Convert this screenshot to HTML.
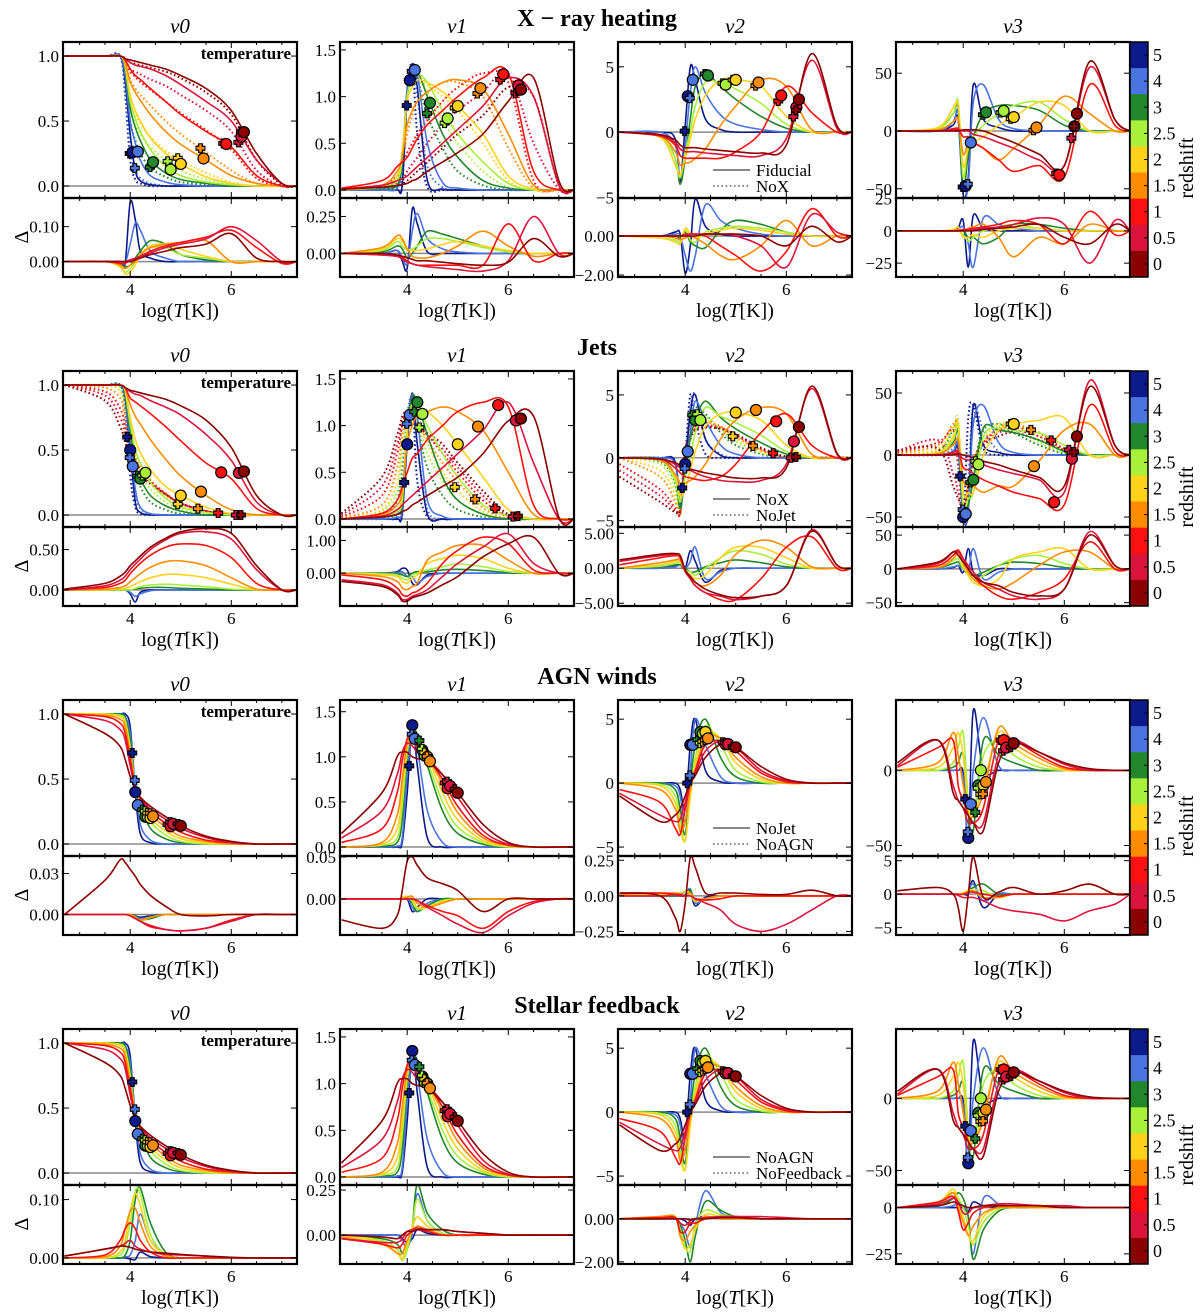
<!DOCTYPE html>
<html><head><meta charset="utf-8">
<style>
html,body{margin:0;padding:0;background:#fff;}
svg{display:block;font-family:"Liberation Serif","DejaVu Serif",serif;}
</style></head>
<body>
<svg id="fig" width="1200" height="1313" viewBox="0 0 1200 1313" xmlns="http://www.w3.org/2000/svg"></svg>
<script>
// ---------------- DATA ----------------
const xGrid = [2.7,3.5,3.8,3.9,4.0,4.1,4.2,4.4,4.7,5.0,5.5,6.0,6.5,7.0,7.3];
const redshiftLabels = ['5','4','3','2.5','2','1.5','1','0.5','0'];
const zColors = ['#0d1a8c','#4a74e0','#22862a','#a8f03a','#ffd21a','#ff8c00','#ff1010','#dc143c','#8b0000'];
const sectionTitles = ['X \u2212 ray heating','Jets','AGN winds','Stellar feedback'];
const legendSolid = ['Fiducial','NoX','NoJet','NoAGN'];
const legendDotted = ['NoX','NoJet','NoAGN','NoFeedback'];

// Row 1: X-ray heating
const r1v0Solid = [
[1,1,1,.8,.4,.12,.04,.01,0,0,0,0,0,0,0],
[1,1,1,.85,.5,.33,.2,.08,.03,.01,0,0,0,0,0],
[1,1,1,.9,.6,.45,.35,.2,.1,.05,.02,0,0,0,0],
[1,1,1,.92,.65,.52,.42,.28,.15,.08,.03,.01,0,0,0],
[1,1,1,.93,.7,.58,.5,.37,.25,.17,.07,.02,0,0,0],
[1,1,1,.95,.8,.72,.66,.55,.42,.32,.2,.08,.02,0,0],
[1,1,1,.97,.9,.85,.82,.75,.65,.55,.42,.3,.08,0,0],
[1,1,1,.98,.95,.93,.92,.9,.85,.78,.65,.5,.2,.02,0],
[1,1,1,.98,.97,.96,.95,.93,.9,.85,.75,.58,.25,.02,0]];
const r1v0Dot = [
[1,1,1,.7,.2,.05,.02,0,0,0,0,0,0,0,0],
[1,1,1,.75,.3,.12,.06,.02,0,0,0,0,0,0,0],
[1,1,1,.85,.5,.35,.25,.14,.07,.03,.01,0,0,0,0],
[1,1,1,.9,.6,.48,.4,.3,.2,.12,.05,.01,0,0,0],
[1,1,1,.92,.68,.56,.48,.38,.27,.2,.1,.03,0,0,0],
[1,1,1,.95,.82,.75,.7,.62,.5,.4,.26,.12,.02,0,0],
[1,1,1,.97,.88,.84,.8,.74,.65,.56,.43,.28,.06,0,0],
[1,1,1,.97,.9,.88,.86,.82,.77,.7,.58,.42,.12,0,0],
[1,1,1,.98,.95,.94,.93,.91,.88,.83,.72,.55,.2,.01,0]];
const r1v0Delta = [
[0,0,0,-.005,.17,.12,.03,.01,0,0,0,0,0,0,0],
[0,0,0,-.005,.05,.11,.09,.03,.01,0,0,0,0,0,0],
[0,0,-.01,-.015,-.01,.01,.03,.06,.05,.02,.005,0,0,0,0],
[0,0,-.015,-.03,-.02,0,.02,.04,.04,.02,.01,0,0,0,0],
[0,0,-.015,-.035,-.03,-.01,.02,.045,.05,.035,.015,0,0,0,0],
[0,0,-.01,-.02,-.01,0,.02,.04,.05,.055,.06,0,0,0,0],
[0,0,-.005,-.005,.005,.01,.015,.03,.045,.055,.07,.09,.04,-.005,0],
[0,0,0,0,.005,.01,.015,.025,.04,.05,.065,.1,.06,0,0],
[0,0,0,0,0,.005,.01,.02,.03,.04,.05,.08,.01,0,0]];
const r1v1Solid = [
[0,0,0,.05,1.0,1.35,1.1,.1,.01,0,0,0,0,0,0],
[0,0,.02,.3,1.1,1.32,1.25,.5,.08,.02,0,0,0,0,0],
[0,.02,.05,.3,1.0,1.25,1.28,1.0,.6,.35,.1,.02,0,0,0],
[0,.03,.1,.35,1.0,1.2,1.25,1.15,.85,.6,.3,.07,0,0,0],
[0,.04,.15,.4,.95,1.1,1.18,1.15,1.05,.9,.6,.15,.01,0,0],
[0,.05,.2,.35,.7,.85,.95,1.05,1.15,1.18,1.08,.6,.05,0,0],
[.02,.1,.25,.3,.35,.45,.55,.7,.85,1.0,1.2,1.25,.2,0,0],
[.01,.05,.1,.12,.15,.2,.25,.35,.5,.65,.9,1.2,1.0,.05,0],
[.01,.03,.05,.06,.07,.1,.12,.2,.3,.4,.6,.95,1.2,.1,0]];
const r1v1Dot = [
[0,0,0,.05,1.0,1.35,.6,.03,0,0,0,0,0,0,0],
[0,0,.02,.2,1.0,1.3,1.0,.25,.03,0,0,0,0,0,0],
[0,.02,.05,.3,1.0,1.25,1.2,.8,.45,.2,.05,0,0,0,0],
[0,.03,.1,.35,1.0,1.2,1.22,1.05,.75,.5,.2,.03,0,0,0],
[0,.04,.15,.4,.95,1.1,1.15,1.12,1.0,.85,.5,.1,0,0,0],
[0,.05,.15,.3,.6,.8,.95,1.05,1.15,1.15,1.0,.45,.02,0,0],
[.01,.05,.15,.25,.4,.5,.6,.75,.95,1.1,1.25,1.15,.1,0,0],
[.01,.03,.08,.1,.2,.28,.35,.5,.7,.85,1.05,1.25,.5,.01,0],
[.01,.02,.05,.06,.1,.15,.2,.3,.45,.6,.8,1.1,1.0,.05,0]];
const r1v1Delta = [
[0,0,.02,-.05,-.1,.3,.2,.01,0,0,0,0,0,0,0],
[0,0,.02,-.03,-.07,.15,.27,.1,.03,.01,0,0,0,0,0],
[0,.01,.05,.03,-.03,0,.05,.15,.13,.1,.05,.01,0,0,0],
[0,.02,.08,.05,.02,.03,.05,.1,.1,.08,.04,.01,0,0,0],
[0,.03,.1,.08,.03,.02,.02,.03,.06,.08,.05,.02,0,0,0],
[0,.04,.12,.1,.03,-.02,-.03,-.03,0,.05,.15,.05,-.02,0,0],
[0,-.01,-.02,-.03,-.05,-.07,-.08,-.08,-.08,-.08,-.08,.2,-.05,0,0],
[0,-.01,-.02,-.04,-.06,-.07,-.08,-.09,-.1,-.11,-.12,-.05,.25,0,0],
[0,0,-.01,-.02,-.03,-.04,-.05,-.05,-.06,-.07,-.08,-.06,.1,-.02,0]];
const r1v2Solid = [
[0,0,-.5,-3.8,.5,5.0,4.0,1,.2,0,0,0,0,0,0],
[0,0,-1,-3.5,-1,3,5,3,1.3,.6,.2,0,0,0,0],
[0,-.3,-2,-4,-2,1,3.5,4.5,3.5,2.5,1.2,.3,0,0,0],
[0,-.3,-2,-3.5,-1.5,0,2,3.8,3.8,3.3,2.2,.6,0,0,0],
[0,-.4,-2.5,-3.3,-2,-.5,1,2.8,4,4,3.5,1.2,0,0,0],
[0,-.3,-1.5,-2.5,-2.4,-2.3,-2,-1.3,.5,2,4,3.5,.2,0,0],
[0,-.3,-1,-1.8,-2,-2,-2,-2,-2,-1.5,0,3.5,1.5,0,0],
[0,-.2,-.8,-1.3,-1.5,-1.5,-1.5,-1.6,-1.7,-1.8,-1.8,-.5,5.5,.3,0],
[0,-.2,-.6,-1,-1.2,-1.2,-1.2,-1.3,-1.4,-1.5,-1.6,-1,6,.5,0]];
const r1v2Delta = [
[0,0,.2,.1,-1.9,-.5,1.9,.5,.1,0,0,0,0,0,0],
[0,0,.1,0,-1,-1.8,-1,1.6,.8,.4,.1,0,0,0,0],
[0,0,0,-.1,.2,-.3,-.5,-.6,.3,.8,.6,.2,0,0,0],
[0,-.1,-.2,-.3,.3,-.2,-.3,.2,.4,.5,.4,.2,0,0,0],
[0,-.1,-.3,-.4,.4,.1,-.1,.1,.3,.4,.3,.1,0,0,0],
[0,0,-.1,-.2,-.1,0,-.1,-.4,-1,-1.2,-.5,.8,-.5,0,0],
[0,0,0,0,.1,.1,.1,0,-.5,-1,-1.8,-.8,1.4,0,0],
[0,0,0,0,0,.1,.1,.1,.1,0,-.5,-1.6,1.1,.2,0],
[0,0,0,0,0,0,0,.1,.1,.1,0,-.5,.5,-.3,0]];
const r1v3Solid = [
[0,0,5,10,-55,-40,40,10,3,0,0,0,0,0,0],
[0,0,8,15,-55,-45,25,40,10,2,0,0,0,0,0],
[0,2,15,20,-50,-20,-5,15,22,22,18,5,0,0,0],
[0,2,15,25,-40,-10,-5,5,15,22,25,10,0,0,0],
[0,3,20,22,-30,-15,-10,-5,5,12,25,22,0,0,0],
[0,1,8,10,-20,-10,-10,-15,-25,-15,5,30,15,0,0],
[0,0,2,2,-5,-5,-10,-15,-25,-35,-30,-40,40,5,0],
[0,0,1,1,0,0,-3,-5,-10,-15,-25,-30,55,10,0],
[0,0,0,0,1,1,1,0,-5,-10,-20,-30,60,10,0]];
const r1v3Delta = [
[0,0,0,2,8,-28,12,2,0,0,0,0,0,0,0],
[0,0,0,1,3,-10,-28,10,5,2,0,0,0,0,0],
[0,0,0,0,0,-5,-5,-10,-5,5,5,2,0,0,0],
[0,0,0,0,-3,-8,-5,0,3,5,2,0,0,0,0],
[0,0,1,3,-5,-5,-3,-5,0,2,2,0,0,0,0],
[0,0,0,1,0,2,3,5,-5,-20,-5,-10,5,0,0],
[0,0,0,0,1,1,2,3,5,8,5,-10,15,-3,0],
[0,0,0,0,0,1,1,2,3,5,10,5,-25,8,0],
[0,0,0,0,0,0,0,1,2,3,5,-5,-10,5,0]];
const r1Circ = [4.05,4.15,4.45,4.8,5.0,5.45,5.9,6.2,6.25];

// Row 2: Jets
const r2v0Solid = [
[1,1,1,.9,.5,.1,.02,0,0,0,0,0,0,0,0],
[1,1,1,.92,.55,.2,.06,.01,0,0,0,0,0,0,0],
[1,1,1,.94,.65,.4,.28,.15,.07,.03,0,0,0,0,0],
[1,1,1,.95,.7,.5,.4,.25,.13,.06,.02,0,0,0,0],
[1,1,1,.96,.75,.58,.48,.35,.22,.15,.06,.01,0,0,0],
[1,1,1,.97,.85,.76,.7,.58,.43,.3,.15,.04,0,0,0],
[1,1,1,.98,.9,.87,.84,.78,.68,.57,.4,.28,.05,0,0],
[1,1,1,.98,.95,.93,.92,.88,.83,.77,.62,.42,.1,0,0],
[1,1,1,.98,.96,.95,.94,.92,.89,.84,.73,.52,.15,0,0]];
const r2v0Dot = [
[1,1,1,.8,.3,.06,.01,0,0,0,0,0,0,0,0],
[1,1,1,.82,.4,.15,.05,.01,0,0,0,0,0,0,0],
[1,1,1,.88,.6,.35,.22,.1,.04,.01,0,0,0,0,0],
[1,1,.98,.85,.62,.44,.33,.2,.1,.04,.01,0,0,0,0],
[1,1,.95,.8,.6,.45,.36,.25,.14,.07,.02,0,0,0,0],
[1,.98,.9,.75,.57,.45,.37,.27,.17,.09,.03,0,0,0,0],
[1,.95,.82,.68,.52,.42,.35,.26,.16,.09,.03,0,0,0,0],
[1,.92,.75,.62,.48,.39,.33,.25,.16,.09,.03,0,0,0,0],
[1,.88,.68,.56,.45,.37,.31,.24,.16,.09,.03,0,0,0,0]];
const r2v0Delta = [
[0,0,0,0,-.05,-.15,-.03,0,0,0,0,0,0,0,0],
[0,0,0,0,-.03,-.08,-.05,-.01,0,0,0,0,0,0,0],
[0,0,0,0,0,.01,.02,.03,.03,.02,.01,0,0,0,0],
[0,0,0,0,0,.02,.04,.06,.07,.06,.04,.01,0,0,0],
[0,0,.01,.02,.04,.07,.1,.15,.19,.19,.15,.07,0,0,0],
[0,.01,.03,.05,.1,.15,.2,.28,.35,.36,.3,.15,.01,0,0],
[0,.03,.08,.12,.2,.27,.33,.43,.53,.57,.55,.4,.08,0,0],
[0,.05,.12,.17,.25,.32,.38,.5,.62,.7,.72,.63,.25,0,0],
[.01,.08,.17,.22,.3,.36,.42,.53,.64,.72,.76,.7,.3,0,0]];
const r2v1Solid = [
[0,0,0,.05,.8,1.35,.8,.05,0,0,0,0,0,0,0],
[0,0,.02,.1,.9,1.33,1.1,.2,.03,0,0,0,0,0,0],
[0,.02,.05,.15,.9,1.3,1.25,.9,.45,.2,.05,0,0,0,0],
[0,.03,.08,.2,.9,1.25,1.25,1.0,.7,.45,.15,.03,0,0,0],
[0,.04,.1,.25,.95,1.2,1.2,1.15,1.0,.8,.45,.1,0,0,0],
[0,.05,.15,.3,.8,1.0,1.1,1.15,1.2,1.15,.95,.5,.05,0,0],
[0,.06,.2,.35,.5,.65,.7,.85,1.0,1.15,1.25,1.2,.15,0,0],
[0,.03,.1,.15,.2,.25,.3,.4,.55,.7,.95,1.25,.6,0,0],
[0,.02,.05,.08,.1,.15,.18,.25,.35,.45,.7,1.05,1.1,.02,0]];
const r2v1Dot = [
[0,0,0,.05,.9,1.3,.4,.02,0,0,0,0,0,0,0],
[0,0,.05,.3,1.1,1.3,.8,.1,0,0,0,0,0,0,0],
[0,.05,.2,.6,1.1,1.25,1.0,.55,.25,.1,.02,0,0,0,0],
[0,.08,.3,.7,1.1,1.2,1.05,.7,.4,.2,.05,0,0,0,0],
[0,.1,.4,.8,1.1,1.15,1.05,.8,.5,.3,.08,0,0,0,0],
[.01,.15,.55,.9,1.1,1.1,1.0,.85,.6,.4,.12,0,0,0,0],
[.02,.25,.7,1.0,1.15,1.1,1.0,.9,.7,.5,.2,.02,0,0,0],
[.04,.35,.8,1.05,1.15,1.1,1.0,.9,.75,.55,.25,.03,0,0,0],
[.06,.45,.9,1.1,1.15,1.1,1.0,.92,.8,.6,.3,.05,0,0,0]];
const r2v1Delta = [
[0,0,.05,.15,.1,-.3,-.35,-.05,0,0,0,0,0,0,0],
[0,0,.02,.05,-.1,-.1,-.3,-.1,0,0,0,0,0,0,0],
[0,0,-.02,-.05,-.1,0,.05,.05,.1,.12,.08,.02,0,0,0],
[0,-.02,-.05,-.15,-.2,-.05,0,.1,.2,.28,.2,.05,0,0,0],
[0,-.05,-.1,-.25,-.3,-.15,-.05,.3,.45,.55,.45,.15,0,0,0],
[0,-.1,-.25,-.45,-.5,-.4,-.3,.4,.65,.85,.85,.4,0,0,0],
[-.05,-.2,-.45,-.65,-.7,-.6,-.55,-.3,.3,.7,1.1,.9,.1,0,0],
[-.2,-.35,-.6,-.8,-.8,-.7,-.65,-.5,-.1,.3,.8,1.2,.3,0,0],
[-.25,-.4,-.65,-.85,-.85,-.75,-.7,-.6,-.35,-.1,.5,.9,1.1,0,0]];
const r2v2Solid = [
[0,0,-.3,-4,-.5,3.5,5,1.5,.2,0,0,0,0,0,0],
[0,0,-.5,-4,-1,2,4.5,3,1,.3,0,0,0,0,0],
[0,-.1,-1.5,-4,-1,1.5,3,4.5,3.2,2.3,1.2,.3,0,0,0],
[0,-.2,-1.8,-3.5,-1.5,0,2,4,3.3,2.8,1.8,.5,0,0,0],
[0,-.2,-1.5,-3,-2.5,-1,.5,2.5,3.5,3.6,3,1,0,0,0],
[0,-.2,-1.3,-2,-2,-1.8,-1.5,-.5,1.5,3,4,3.5,.3,0,0],
[0,-.1,-.8,-1.2,-1.5,-1.6,-1.7,-1.8,-1.5,-.5,2,3.5,1,0,0],
[0,-.1,-.5,-.8,-1,-1,-1.2,-1.5,-1.8,-1.9,-1.8,-.5,5.5,.3,0],
[0,-.1,-.4,-.6,-.8,-.9,-1,-1.2,-1.4,-1.6,-1.6,-.8,5.7,.4,0]];
const r2v2Dot = [
[0,0,-.3,-4,0,5,3,.3,0,0,0,0,0,0,0],
[0,0,-.5,-4,-.5,4,5,1.5,.3,0,0,0,0,0,0],
[0,-.3,-2,-4.5,0,3,4,3.5,2,1,.3,0,0,0,0],
[0,-.5,-2.5,-4.5,0,2.5,3.5,3.3,2.3,1.3,.4,0,0,0,0],
[0,-1,-3,-4.5,0,2.2,3,3,2.5,1.5,.5,0,0,0,0],
[0,-1.5,-3.5,-4.5,.5,2,2.8,2.8,2.5,1.7,.6,0,0,0,0],
[-.5,-2.5,-4,-4.3,.5,1.8,2.5,2.6,2.4,1.8,.7,0,0,0,0],
[-1,-3,-4.2,-4.2,.5,1.7,2.3,2.5,2.3,1.8,.7,0,0,0,0],
[-1.5,-3.5,-4.3,-4,.5,1.5,2.2,2.4,2.3,1.9,.8,.1,0,0,0]];
const r2v2Delta = [
[0,0,.3,.5,0,2.5,1,-2,-.3,0,0,0,0,0,0],
[0,0,.2,.5,0,1,3,-1.5,-.5,0,0,0,0,0,0],
[0,.2,.5,.5,0,-.5,-.5,.2,.8,1.2,.8,.2,0,0,0],
[0,.3,.7,.8,-.2,-.5,-1,0,1.5,2.5,2,.6,0,0,0],
[0,.5,1,1,-.3,-1,-1.5,-1,1.5,3,3,1.5,0,0,0],
[0,.8,1.2,1.2,-.5,-1,-2,-2.5,-1,2,4,3,.2,0,0],
[.5,1.5,1.8,1.5,-.5,-1.5,-2.5,-3.5,-4.5,-4.5,-1.5,3,4.5,0,0],
[1,1.8,2,1.8,-.3,-1.5,-2.5,-3.5,-4,-4.5,-4,-2.5,5.5,.5,0],
[1.2,2,2.1,1.8,-.2,-1.2,-2,-3,-3.8,-4.2,-4,-2.5,5.3,.5,0]];
const r2v3Solid = [
[0,0,2,5,-50,-45,40,8,2,0,0,0,0,0,0],
[0,0,3,8,-50,-45,25,40,10,2,0,0,0,0,0],
[0,1,10,18,-45,-40,-20,22,20,18,12,3,0,0,0],
[0,1,12,22,-40,-35,-30,15,22,20,18,8,0,0,0],
[0,2,15,25,-30,-30,-30,0,20,25,28,30,0,0,0],
[0,1,8,12,-20,-25,-25,-30,-25,-25,-5,20,25,0,0],
[0,0,2,3,-10,-12,-15,-20,-25,-30,-35,-40,40,3,0],
[0,0,1,1,-3,-4,-5,-8,-12,-15,-20,-30,60,8,0],
[0,0,0,1,0,-1,-2,-5,-8,-12,-18,-25,55,8,0]];
const r2v3Dot = [
[0,0,3,5,-50,30,40,5,0,0,0,0,0,0,0],
[0,0,5,10,-50,-20,40,20,3,0,0,0,0,0,0],
[0,3,20,25,-45,-30,-10,20,25,18,8,1,0,0,0],
[0,4,22,27,-45,-30,-10,15,25,22,10,2,0,0,0],
[0,5,22,25,-45,-25,-5,12,25,25,15,3,0,0,0],
[1,8,25,20,-45,-25,-5,10,22,25,18,5,0,0,0],
[2,10,20,-10,-45,-25,-5,10,20,22,18,5,0,0,0],
[3,12,-15,-30,-45,-25,-5,8,18,20,15,5,0,0,0],
[4,5,-25,-35,-42,-25,-5,8,15,18,12,4,0,0,0]];
const r2v3Delta = [
[0,0,2,5,-5,30,-5,-10,0,0,0,0,0,0,0],
[0,0,3,5,0,-5,30,-15,-5,0,0,0,0,0,0],
[0,2,8,10,0,-5,-10,-5,5,10,8,2,0,0,0],
[0,3,12,15,0,-5,-15,-10,5,15,20,8,0,0,0],
[0,3,15,25,5,-10,-20,-25,-15,15,25,30,0,0,0],
[0,2,15,25,10,-5,-15,-25,-30,-20,5,25,25,0,0],
[0,5,20,28,15,0,-10,-25,-40,-45,-35,-15,40,0,0],
[0,8,25,25,15,5,-5,-20,-30,-40,-45,-30,55,5,0],
[0,10,25,20,10,0,-10,-20,-25,-35,-40,-30,50,5,0]];
const r2Circ = [4.0,4.05,4.2,4.3,5.0,5.4,5.8,6.15,6.25];

// Row 3: AGN winds
const r3v0Solid = [
[1,1,1,1,.9,.4,.08,.01,0,0,0,0,0,0,0],
[1,1,1,.98,.85,.45,.15,.03,0,0,0,0,0,0,0],
[1,1,1,.97,.8,.45,.3,.12,.04,.01,0,0,0,0,0],
[1,1,.99,.95,.75,.45,.32,.17,.07,.02,0,0,0,0,0],
[1,1,.98,.93,.72,.45,.33,.2,.1,.04,.01,0,0,0,0],
[1,.99,.96,.9,.7,.45,.34,.23,.13,.06,.02,0,0,0,0],
[1,.98,.93,.85,.65,.44,.35,.25,.16,.09,.03,.01,0,0,0],
[1,.95,.88,.8,.6,.43,.35,.27,.19,.12,.05,.01,0,0,0],
[1,.85,.75,.65,.52,.42,.36,.29,.21,.14,.06,.02,0,0,0]];
const r3v0Delta = [
[0,0,0,0,0,-.001,-.002,-.001,0,0,0,0,0,0,0],
[0,0,0,0,0,-.001,-.003,-.002,0,0,0,0,0,0,0],
[0,0,0,0,0,-.001,-.004,-.003,0,0,0,0,0,0,0],
[0,0,0,0,0,-.002,-.005,-.002,0,0,0,0,0,0,0],
[0,0,0,0,0,-.002,-.004,-.002,0,0,0,0,0,0,0],
[0,0,0,0,0,-.002,-.004,-.002,0,0,0,0,0,0,0],
[0,0,0,0,-.001,-.003,-.005,-.009,-.011,-.012,-.01,-.004,0,0,0],
[0,0,0,0,-.001,-.003,-.005,-.008,-.011,-.012,-.01,-.005,0,0,0],
[0,.025,.04,.038,.033,.028,.022,.014,.006,0,-.001,0,0,0,0]];
const r3v1Solid = [
[0,0,0,.05,.6,1.35,.9,.1,0,0,0,0,0,0,0],
[0,0,.01,.1,.8,1.3,1.1,.4,.05,0,0,0,0,0,0],
[0,.01,.05,.3,1.0,1.28,1.25,.9,.4,.15,.03,0,0,0,0],
[0,.02,.1,.45,1.05,1.25,1.2,.95,.5,.22,.05,0,0,0,0],
[0,.03,.2,.6,1.1,1.2,1.15,1.0,.6,.3,.07,.01,0,0,0],
[0,.05,.35,.75,1.15,1.2,1.1,1.0,.7,.38,.1,.02,0,0,0],
[.05,.2,.6,.95,1.2,1.2,1.1,1.0,.75,.45,.13,.02,0,0,0],
[.1,.4,.8,1.05,1.15,1.12,1.05,.98,.8,.55,.18,.03,0,0,0],
[.15,.6,1.0,1.05,1.05,1.0,.98,.95,.8,.6,.25,.05,0,0,0]];
const r3v1Delta = [
[0,0,0,0,0,-.015,-.01,0,0,0,0,0,0,0,0],
[0,0,0,0,.002,-.01,-.015,-.005,0,0,0,0,0,0,0],
[0,0,0,.001,.002,-.005,-.015,-.008,0,0,0,0,0,0,0],
[0,0,0,.002,.003,-.003,-.012,-.01,-.002,0,0,0,0,0,0],
[0,0,0,.002,.003,0,-.01,-.01,-.003,0,0,0,0,0,0],
[0,0,0,0,.002,.003,-.005,-.01,-.005,0,0,0,0,0,0],
[0,0,0,0,0,0,-.002,-.008,-.015,-.02,-.035,-.015,-.003,0,0],
[0,0,0,0,0,0,-.002,-.01,-.02,-.03,-.04,-.02,-.005,0,0],
[-.025,-.035,-.02,.01,.045,.05,.04,.025,.018,.01,-.015,0,0,0,0]];
const r3v2Solid = [
[0,0,0,-.5,-2,3,5,1,.1,0,0,0,0,0,0],
[0,0,-.2,-1,-3,1,5,3,.5,0,0,0,0,0,0],
[0,0,-.5,-2,-4,0,3,5,2,.5,0,0,0,0,0],
[0,-.1,-1,-3,-4.5,-1,2,4.5,3,1,.1,0,0,0,0],
[0,-.2,-1.5,-3.5,-4.5,-1,1.5,4,3.5,1.6,.3,0,0,0,0],
[0,-.5,-2,-3.8,-3,-.5,1,3.5,3.5,2,.5,0,0,0,0],
[-.5,-1.5,-3.5,-4,-2,0,1,3,3.3,2.5,.8,.1,0,0,0],
[-.8,-2.5,-3,-2.8,-1.5,0,.8,2.5,3.3,2.8,1,.2,0,0,0],
[-1,-3,-2.5,-2,-1,0,.6,2,3,2.8,1.3,.3,0,0,0]];
const r3v2Delta = [
[0,0,0,0,0,.03,-.07,-.01,0,0,0,0,0,0,0],
[0,0,0,0,.01,.05,-.05,-.02,0,0,0,0,0,0,0],
[0,0,0,.01,.03,.04,-.03,-.02,0,0,0,0,0,0,0],
[0,0,.01,.02,.03,.01,-.04,-.02,0,0,0,0,0,0,0],
[0,.01,.02,.02,.03,.02,-.04,-.02,0,0,0,0,0,0,0],
[.01,.02,.02,.01,0,.02,-.02,-.02,0,0,0,0,0,0,0],
[.02,.02,.01,0,0,0,-.02,-.03,-.02,0,0,0,0,0,0],
[0,0,.01,.01,0,0,-.02,-.05,-.1,-.2,-.25,-.2,-.1,0,0],
[.02,0,-.15,-.25,-.05,.27,.2,.02,.02,.02,.01,.01,.04,0,0]];
const r3v3Solid = [
[0,0,0,0,-2,-45,40,0,0,0,0,0,0,0,0],
[0,0,0,0,-5,-45,0,35,3,0,0,0,0,0,0],
[0,0,2,5,10,-30,-40,20,10,5,0,0,0,0,0],
[0,0,5,15,25,-20,-30,10,20,10,2,0,0,0,0],
[0,2,15,25,10,-25,-30,-10,25,15,5,0,0,0,0],
[0,5,25,10,-10,-30,-30,-15,28,18,8,1,0,0,0],
[2,15,20,-10,-20,-30,-35,-25,20,20,10,2,0,0,0],
[3,20,-10,-20,-25,-35,-35,-35,10,20,12,4,0,0,0],
[5,20,-15,-20,-25,-30,-35,-40,5,18,12,5,1,0,0]];
const r3v3Delta = [
[0,0,0,0,0,0,2,-2,0,0,0,0,0,0,0],
[0,0,0,0,0,.5,1.5,-1,0,0,0,0,0,0,0],
[0,0,0,0,0,.5,1,1.5,0,0,0,0,0,0,0],
[0,0,0,0,.2,.6,.6,.5,-.5,0,0,0,0,0,0],
[0,0,0,0,.2,.5,.5,-.5,-.5,0,0,0,0,0,0],
[0,0,0,0,0,.2,.5,-.5,-.5,0,0,0,0,0,0],
[0,0,0,0,0,.3,.3,0,-.3,0,0,0,0,0,0],
[0,0,0,-.2,-.5,-.5,-.5,-1,-2,-2.5,-3,-4,-2.5,-1.5,0],
[.5,1,0,-2,-5.5,0,5.5,-.5,.3,1,0,.5,1.5,0,0]];
const r3Circ = [4.1,4.15,4.3,4.35,4.4,4.45,4.8,4.85,5.0];

// Row 4: Stellar feedback (main panels close to AGN winds row)
const r4v0Solid = r3v0Solid;
const r4v1Solid = r3v1Solid;
const r4v2Solid = r3v2Solid;
const r4v3Solid = r3v3Solid;
const r4v0Delta = [
[0,0,0,0,-.002,-.003,.01,.002,0,0,0,0,0,0,0],
[0,0,0,.002,.005,.03,.075,.03,.005,0,0,0,0,0,0],
[0,0,0,.005,.03,.1,.12,.06,.01,0,0,0,0,0,0],
[0,0,.005,.02,.06,.115,.11,.04,.005,0,0,0,0,0,0],
[0,0,.01,.03,.08,.11,.09,.03,.005,0,0,0,0,0,0],
[0,.002,.02,.05,.08,.085,.06,.02,.003,0,0,0,0,0,0],
[0,.005,.03,.05,.06,.05,.03,.01,0,0,0,0,0,0,0],
[.003,.015,.02,.025,.03,.02,.015,.01,.006,.005,.003,0,0,0,0],
[.003,.015,.02,.02,.018,.015,.013,.01,.008,.006,.003,.001,0,0,0]];
const r4v1Delta = [
[0,0,0,-.02,-.04,-.02,.03,.01,0,0,0,0,0,0,0],
[0,0,0,-.03,-.07,.02,.23,.08,.01,0,0,0,0,0,0],
[0,-.02,-.05,-.1,-.08,.05,.28,.12,.03,0,0,0,0,0,0],
[0,-.03,-.08,-.14,-.08,.05,.2,.08,.01,0,0,0,0,0,0],
[0,-.04,-.1,-.13,-.05,.04,.1,.05,0,0,0,0,0,0,0],
[-.01,-.05,-.1,-.1,-.03,.02,.05,.03,0,0,0,0,0,0,0],
[-.02,-.05,-.07,-.05,0,.02,.03,.02,0,0,0,0,0,0,0],
[-.02,-.04,-.04,-.02,.02,.03,.04,.03,.03,.02,.01,0,0,0,0],
[0,-.01,-.02,0,.02,.02,.03,.03,.03,.02,.01,0,0,0,0]];
const r4v2Delta = [
[0,0,0,0,-.1,-.3,0,.1,0,0,0,0,0,0,0],
[0,0,0,-.2,-.6,-1.3,-.3,1.3,.3,.1,0,0,0,0,0],
[0,0,.05,-.3,-1.0,-2.0,-.8,.8,.4,.1,0,0,0,0,0],
[0,0,.1,-.5,-1.3,-1.5,-.3,.4,.2,.1,0,0,0,0,0],
[0,.05,.1,-.8,-1.4,-1.2,-.5,.2,.1,0,0,0,0,0,0],
[0,.1,.1,-.8,-1,-.6,-.3,.1,0,0,0,0,0,0,0],
[0,.05,.05,-.6,-.6,-.2,-.2,0,.1,.1,0,0,0,0,0],
[0,0,0,-.2,-.3,-.1,0,.05,.1,.1,.1,.05,0,0,0],
[0,0,0,0,0,-.05,0,0,.05,.05,0,0,0,0,0]];
const r4v3Delta = [
[0,0,0,0,0,-2,3,1,0,0,0,0,0,0,0],
[0,0,1,3,0,-5,-25,5,2,0,0,0,0,0,0],
[0,1,5,8,5,-5,-28,-12,-2,0,0,0,0,0,0],
[0,2,8,5,0,-10,-20,-8,-1,0,0,0,0,0,0],
[0,3,10,2,-5,-15,-18,-5,0,0,0,0,0,0,0],
[0,3,8,0,-8,-15,-10,-3,0,0,0,0,0,0,0],
[0,3,6,-2,-12,-8,-3,0,1,1,1,0,0,0,0],
[0,2,5,3,-3,-3,0,1,2,2,1,1,0,0,0],
[0,1,3,2,1,0,0,1,1,1,1,0,0,0,0]];
const r4Circ = [4.1,4.15,4.3,4.35,4.4,4.45,4.8,4.85,5.0];

// tick values / labels
const v0MainTicks = [0,0.5,1.0], v0MainTickLabels = ['0.0','0.5','1.0'];
const v1MainTicks = [0,0.5,1.0,1.5], v1MainTickLabels = ['0.0','0.5','1.0','1.5'];
const v2MainTicks = [-5,0,5], v2MainTickLabels = ['\u22125','0','5'];
const v3MainTicks = [-50,0,50], v3MainTickLabels = ['\u221250','0','50'];
const xTicks = [4,6], xTickLabels = ['4','6'];

// ---------------- LAYOUT ----------------
const colLeft = [63,340,618,896];
const PW = 234, XMIN = 2.67, XMAX = 7.3;
const rowOff = [0,329,658,987];
const MT = 42, MB = 198, DB = 277;

const panels = [
 {r:0,c:0,s:r1v0Solid,d:r1v0Dot,dl:r1v0Delta,yl:[-0.092,1.108],dyl:[-0.044,0.182],yt:v0MainTicks,ytl:v0MainTickLabels,dt:[0,0.1],dtl:['0.00','0.10'],circ:r1Circ},
 {r:0,c:1,s:r1v1Solid,d:r1v1Dot,dl:r1v1Delta,yl:[-0.086,1.585],dyl:[-0.16,0.375],yt:v1MainTicks,ytl:v1MainTickLabels,dt:[0,0.25],dtl:['0.00','0.25'],circ:r1Circ},
 {r:0,c:2,s:r1v2Solid,d:null,dl:r1v2Delta,yl:[-5.05,6.9],dyl:[-2.1,1.95],yt:v2MainTicks,ytl:v2MainTickLabels,dt:[-2,0],dtl:['\u22122.00','0.00'],circ:r1Circ},
 {r:0,c:3,s:r1v3Solid,d:null,dl:r1v3Delta,yl:[-58,77],dyl:[-35.7,25.4],yt:v3MainTicks,ytl:v3MainTickLabels,dt:[-25,0,25],dtl:['\u221225','0','25'],circ:r1Circ},
 {r:1,c:0,s:r2v0Solid,d:r2v0Dot,dl:r2v0Delta,yl:[-0.092,1.108],dyl:[-0.2,0.78],yt:v0MainTicks,ytl:v0MainTickLabels,dt:[0,0.5],dtl:['0.00','0.50'],circ:r2Circ},
 {r:1,c:1,s:r2v1Solid,d:r2v1Dot,dl:r2v1Delta,yl:[-0.086,1.585],dyl:[-1.0,1.41],yt:v1MainTicks,ytl:v1MainTickLabels,dt:[0,1],dtl:['0.00','1.00'],circ:r2Circ},
 {r:1,c:2,s:r2v2Solid,d:r2v2Dot,dl:r2v2Delta,yl:[-5.5,6.9],dyl:[-5.4,5.9],yt:v2MainTicks,ytl:v2MainTickLabels,dt:[-5,0,5],dtl:['\u22125.00','0.00','5.00'],circ:r2Circ},
 {r:1,c:3,s:r2v3Solid,d:r2v3Dot,dl:r2v3Delta,yl:[-58,67.7],dyl:[-55,62],yt:v3MainTicks,ytl:v3MainTickLabels,dt:[-50,0,50],dtl:['\u221250','0','50'],circ:r2Circ},
 {r:2,c:0,s:r3v0Solid,d:null,dl:r3v0Delta,yl:[-0.092,1.108],dyl:[-0.015,0.0428],yt:v0MainTicks,ytl:v0MainTickLabels,dt:[0,0.03],dtl:['0.00','0.03'],circ:r3Circ},
 {r:2,c:1,s:r3v1Solid,d:null,dl:r3v1Delta,yl:[-0.1,1.63],dyl:[-0.043,0.0512],yt:v1MainTicks,ytl:v1MainTickLabels,dt:[0,0.05],dtl:['0.00','0.05'],circ:r3Circ},
 {r:2,c:2,s:r3v2Solid,d:null,dl:r3v2Delta,yl:[-5.7,6.5],dyl:[-0.275,0.28],yt:v2MainTicks,ytl:v2MainTickLabels,dt:[-0.25,0,0.25],dtl:['\u22120.25','0.00','0.25'],circ:r3Circ},
 {r:2,c:3,s:r3v3Solid,d:null,dl:r3v3Delta,yl:[-57,46.7],dyl:[-6.1,5.7],yt:[-50,0],ytl:['\u221250','0'],dt:[-5,0,5],dtl:['\u22125','0','5'],circ:r3Circ},
 {r:3,c:0,s:r4v0Solid,d:null,dl:r4v0Delta,yl:[-0.092,1.108],dyl:[-0.0105,0.125],yt:v0MainTicks,ytl:v0MainTickLabels,dt:[0,0.1],dtl:['0.00','0.10'],circ:r4Circ},
 {r:3,c:1,s:r4v1Solid,d:null,dl:r4v1Delta,yl:[-0.086,1.585],dyl:[-0.16,0.278],yt:v1MainTicks,ytl:v1MainTickLabels,dt:[0,0.25],dtl:['0.00','0.25'],circ:r4Circ},
 {r:3,c:2,s:r4v2Solid,d:null,dl:r4v2Delta,yl:[-5.7,6.5],dyl:[-2.1,1.57],yt:v2MainTicks,ytl:v2MainTickLabels,dt:[-2,0],dtl:['\u22122.00','0.00'],circ:r4Circ},
 {r:3,c:3,s:r4v3Solid,d:null,dl:r4v3Delta,yl:[-60,48],dyl:[-30.5,12.2],yt:[-50,0],ytl:['\u221250','0'],dt:[-25,0],dtl:['\u221225','0'],circ:r4Circ}
];

// ---------------- DRAWING ----------------
const NS = 'http://www.w3.org/2000/svg';
const svg = document.getElementById('fig');
function mk(parent, tag, attrs){
  const e = document.createElementNS(NS, tag);
  for (const k in attrs) e.setAttribute(k, attrs[k]);
  parent.appendChild(e);
  return e;
}
function txt(parent, x, y, s, size, anchor, extra){
  const t = mk(parent,'text',Object.assign({x:x,y:y,'font-size':size,'text-anchor':anchor||'middle',fill:'#000'},extra||{}));
  t.textContent = s;
  return t;
}
function interp(arr, x){
  if (x<=xGrid[0]) return arr[0];
  for (let i=1;i<xGrid.length;i++){
    if (x<=xGrid[i]){const t=(x-xGrid[i-1])/(xGrid[i]-xGrid[i-1]);return arr[i-1]+t*(arr[i]-arr[i-1]);}
  }
  return arr[arr.length-1];
}
function pathFor(vals, sx, sy){
  const pts = vals.map((v,i)=>[sx(xGrid[i]), sy(v)]);
  let d = 'M'+pts[0][0].toFixed(1)+','+pts[0][1].toFixed(1);
  for (let i=0;i<pts.length-1;i++){
    const p0=pts[Math.max(0,i-1)],p1=pts[i],p2=pts[i+1],p3=pts[Math.min(pts.length-1,i+2)];
    const c1=[p1[0]+(p2[0]-p0[0])/6,p1[1]+(p2[1]-p0[1])/6];
    const c2=[p2[0]-(p3[0]-p1[0])/6,p2[1]-(p3[1]-p1[1])/6];
    d+=' C'+c1[0].toFixed(1)+','+c1[1].toFixed(1)+' '+c2[0].toFixed(1)+','+c2[1].toFixed(1)+' '+p2[0].toFixed(1)+','+p2[1].toFixed(1);
  }
  return d;
}

let clipId = 0;
panels.forEach((p)=>{
  const off = rowOff[p.r];
  const L = colLeft[p.c], R = L+PW;
  const g = mk(svg,'g',{});
  
  
  const sx = x => L + (x-XMIN)/(XMAX-XMIN)*PW;
  const subs = [
    {top:off+MT,bot:off+MB,lim:p.yl,ticks:p.yt,labels:p.ytl,curves:p.s,dots:p.d,kind:'main'},
    {top:off+MB,bot:off+DB,lim:p.dyl,ticks:p.dt,labels:p.dtl,curves:p.dl,dots:null,kind:'delta'}
  ];
  subs.forEach(sb=>{
    const sy = v => sb.bot - (v-sb.lim[0])/(sb.lim[1]-sb.lim[0])*(sb.bot-sb.top);
    clipId++;
    const cp = mk(g,'clipPath',{id:'c'+clipId});
    mk(cp,'rect',{x:L,y:sb.top,width:PW,height:sb.bot-sb.top});
    const cg = mk(g,'g',{'clip-path':'url(#c'+clipId+')'});
    // zero line
    const zl = mk(cg,'line',{x1:L,x2:R,y1:sy(0),y2:sy(0),stroke:'#888','stroke-width':1.5});
    
    
    if (sb.dots){
      sb.dots.forEach((vals,zi)=>{
        const pe = mk(cg,'path',{d:pathFor(vals,sx,sy),fill:'none',stroke:zColors[zi],'stroke-width':2,'stroke-dasharray':'1.6 2.6'});
        
        
      });
    }
    sb.curves.forEach((vals,zi)=>{
      const pe = mk(cg,'path',{d:pathFor(vals,sx,sy),fill:'none',stroke:zColors[zi],'stroke-width':1.6});
      
      
    });
    if (sb.kind==='main'){
      p.circ.forEach((cx,zi)=>{
        const src = sb.dots ? sb.dots[zi] : sb.curves[zi];
        const px = sx(cx-0.06), py = sy(interp(src,cx-0.06));
        const pl = mk(cg,'path',{d:'M'+(px-5)+','+py+'h10M'+px+','+(py-5)+'v10',stroke:'#000','stroke-width':5});
        
        
        mk(cg,'path',{d:'M'+(px-4)+','+py+'h8M'+px+','+(py-4)+'v8',stroke:zColors[zi],'stroke-width':2.5});
        const c = mk(cg,'circle',{cx:sx(cx),cy:sy(interp(sb.curves[zi],cx)),r:5.5,fill:zColors[zi],stroke:'#000','stroke-width':1.2});
        
        
      });
    }
    // ticks
    for (let xv=3; xv<=7.01; xv+=0.5){
      const major = Math.abs(xv-Math.round(xv))<1e-6 && (Math.round(xv)%2===0);
      const len = major?6:3;
      mk(g,'line',{x1:sx(xv),x2:sx(xv),y1:sb.bot,y2:sb.bot-len,stroke:'#000','stroke-width':1});
      mk(g,'line',{x1:sx(xv),x2:sx(xv),y1:sb.top,y2:sb.top+len,stroke:'#000','stroke-width':1});
    }
    sb.ticks.forEach((tv,ti)=>{
      const y = sy(tv);
      mk(g,'line',{x1:L,x2:L+6,y1:y,y2:y,stroke:'#000','stroke-width':1});
      mk(g,'line',{x1:R,x2:R-6,y1:y,y2:y,stroke:'#000','stroke-width':1});
      const t = txt(g,L-4,y+6,sb.labels[ti],17,'end');
      
      
    });
    const fr = mk(g,'rect',{x:L,y:sb.top,width:PW,height:sb.bot-sb.top,fill:'none',stroke:'#000','stroke-width':2.2});
    
    
  });
  xTicks.forEach((xv,i)=>{
    const t = txt(g,sx(xv),off+DB+18,xTickLabels[i],17);
    
    
  });
  const xl = mk(g,'text',{x:L+PW/2,y:off+317,'font-size':20,'text-anchor':'middle'});
  xl.innerHTML = 'log(<tspan font-style="italic">T</tspan>[K])';
  
  
  const pt = txt(g,L+PW/2,off+33,'v'+p.c,21,'middle',{'font-style':'italic'});
  
  
  if (p.c===0){
    const tl = txt(g,L+228,off+59,'temperature',17,'end',{'font-weight':'bold'});
    
    
    const dl = txt(g,0,0,'\u0394',20,'middle',{transform:'translate(28,'+(off+237)+') rotate(-90)'});
    
    
  }
  if (p.c===2){
    const lg = mk(g,'g',{});
    
    
    const ly = off+170;
    mk(lg,'line',{x1:713,x2:750,y1:ly,y2:ly,stroke:'#888','stroke-width':2});
    mk(lg,'line',{x1:713,x2:750,y1:ly+16,y2:ly+16,stroke:'#888','stroke-width':2,'stroke-dasharray':'1.6 2.6'});
    const t1 = txt(lg,756,ly+6,legendSolid[p.r],17,'start');
    
    
    const t2 = txt(lg,756,ly+22,legendDotted[p.r],17,'start');
    
    
  }
});

// section titles and colorbars
rowOff.forEach((off,r)=>{
  const st = txt(svg,597,off+26,sectionTitles[r],24,'middle',{'font-weight':'bold'});
  
  
  const cb = mk(svg,'g',{});
  
  
  const top = off+MT, h = (DB-MT)/redshiftLabels.length;
  redshiftLabels.forEach((lab,i)=>{
    mk(cb,'rect',{x:1130,y:top+i*h,width:18,height:h+0.5,fill:zColors[i]});
    mk(cb,'line',{x1:1144,x2:1148,y1:top+i*h+h/2,y2:top+i*h+h/2,stroke:'#000','stroke-width':1});
    const t = txt(cb,1153,top+i*h+h/2+6,lab,18,'start');
    
    
  });
  mk(cb,'rect',{x:1130,y:top,width:18,height:DB-MT,fill:'none',stroke:'#000','stroke-width':1.5});
  const rl = txt(cb,0,0,'redshift',20,'middle',{transform:'translate(1193,'+(off+168)+') rotate(-90)'});
  
  
});
</script>
</body></html>
